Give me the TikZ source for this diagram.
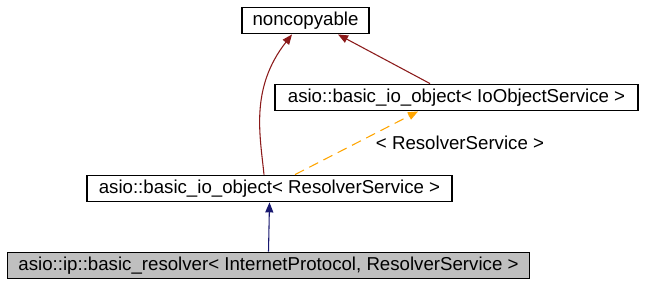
\documentclass[tikz,border=0pt]{standalone}
\usepackage{fontspec}
\setmainfont{Liberation Sans}
\usetikzlibrary{arrows.meta}
\definecolor{inherit}{HTML}{191970}
\definecolor{privinh}{HTML}{8B1A1A}
\definecolor{templ}{HTML}{FFA500}
\definecolor{focus}{HTML}{BFBFBF}
\begin{document}
\begin{tikzpicture}[x=0.75pt,y=-0.75pt,
  lbl/.style={font=\fontsize{14}{16}\selectfont},
  cls/.style={lbl,draw=black,line width=0.9pt,inner sep=0pt,minimum height=20pt,
    text height=10pt,text depth=2.8pt},
  edge/.style={line width=0.8pt,-{Triangle[length=7.5pt,width=6pt]}}]
\useasboundingbox (0,0) rectangle (646,287);
\node[cls,minimum width=95.25pt] (nc) at (305.5,20.5) {noncopyable};
\node[cls,minimum width=272.25pt] (io) at (456.5,97.5) {asio::basic\_io\_object< IoObjectService >};
\node[cls,minimum width=273.75pt] (rs) at (269.5,188.5) {asio::basic\_io\_object< ResolverService >};
\node[cls,fill=focus,minimum width=391.5pt] (br) at (268.5,265.5) {asio::ip::basic\_resolver< InternetProtocol, ResolverService >};
% public inheritance
\draw[edge,draw=inherit] (br.north) -- (rs.south);
% base classes of noncopyable
\draw[edge,draw=privinh] (rs.north -| 264,0) .. controls (260,135) and (250,88) .. (nc.south -| 292,0);
\draw[edge,draw=privinh] (io.north -| 430,0) -- (nc.south -| 338,0);
% template instantiation
\draw[edge,draw=templ,dash pattern=on 7.5pt off 4.5pt] (rs.north -| 295,0) -- (io.south -| 418,0);
\node[lbl,inner sep=0pt] (tl) at (460,143) {< ResolverService >};
\end{tikzpicture}
\end{document}
